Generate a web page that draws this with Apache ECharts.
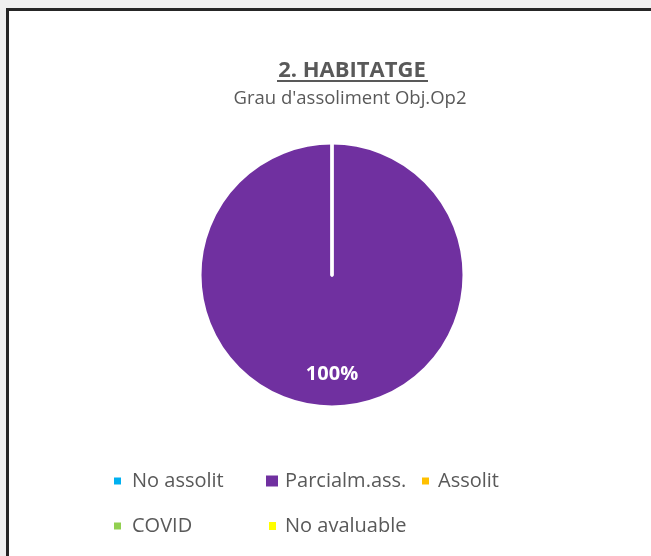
<!DOCTYPE html>
<html>
<head>
<meta charset="utf-8">
<script src="https://cdn.jsdelivr.net/npm/echarts@6/dist/echarts.min.js"></script>
<style>
  html, body { margin: 0; padding: 0; background: #f0f0f0; overflow: hidden; }
  .frame {
    position: absolute; left: 6px; top: 8px; width: 700px; height: 600px;
    background: #fff; border-top: 3px solid #262626; border-left: 3px solid #262626;
  }
  #chart { position: absolute; left: 0; top: 0; width: 651px; height: 556px; }
</style>
</head>
<body>
<div class="frame"></div>
<div id="chart"></div>
<script>
// categories and values
const categories = ['No assolit', 'Parcialm.ass.', 'Assolit', 'COVID', 'No avaluable']
const values = [0, 100, 0, 0, 0]
const colors = ['#00b0f0', '#7030a0', '#ffc000', '#92d050', '#ffff00']

const chart = echarts.init(document.getElementById('chart'))

const textGrey = '#595959'

// legend placement per item (Excel lays them out on a grid)
const legendPos = [
  { left: 112, top: 469, w: 9, h: 9, gap: 5 },
  { left: 264, top: 469, w: 14, h: 13, gap: 1 },
  { left: 420, top: 469, w: 9, h: 9, gap: 3 },
  { left: 112, top: 514, w: 9, h: 9, gap: 5 },
  { left: 267, top: 514, w: 9, h: 10, gap: 3 },
]

const legends = categories.map((name, i) => {
  const p = legendPos[i]
  return {
    data: [name],
    left: p.left,
    top: p.top,
    padding: 0,
    icon: 'rect',
    itemWidth: p.w,
    itemHeight: p.h,
    selectedMode: false,
    textStyle: {
      color: textGrey,
      fontFamily: 'Open Sans',
      fontSize: 20,
      lineHeight: 24,
      padding: [0, 0, 0, p.gap],
    },
  }
})

const option = {
  animation: false,
  title: [
    {
      text: '2. HABITATGE',
      left: 352,
      textAlign: 'center',
      top: 58,
      padding: 0,
      textStyle: {
        color: textGrey,
        fontFamily: 'Open Sans',
        fontWeight: 'bold',
        fontSize: 22,
        lineHeight: 26,
      },
    },
    {
      text: "Grau d'assoliment Obj.Op2",
      left: 350,
      textAlign: 'center',
      top: 88,
      padding: 0,
      textStyle: {
        color: textGrey,
        fontFamily: 'Open Sans',
        fontWeight: 'normal',
        fontSize: 18.5,
        lineHeight: 22,
      },
    },
  ],
  // underline under the title
  graphic: [
    {
      type: 'rect',
      left: 277,
      top: 80,
      shape: { width: 151, height: 2 },
      style: { fill: textGrey },
    },
  ],
  legend: legends,
  series: [
    {
      type: 'pie',
      center: [332, 275],
      radius: 132,
      startAngle: 90,
      clockwise: true,
      silent: true,
      itemStyle: {
        borderColor: '#fff',
        borderWidth: 3,
      },
      label: {
        show: true,
        position: 'inside',
        color: '#fff',
        fontFamily: 'Open Sans',
        fontWeight: 'bold',
        fontSize: 20,
        lineHeight: 30,
        // two empty lines push the value down inside the slice
        formatter: (p) => (p.value > 0 ? '\n\n' + Math.round(p.percent) + '%' : ''),
      },
      labelLine: { show: false },
      data: categories.map((name, i) => ({
        name: name,
        value: values[i],
        itemStyle: { color: colors[i] },
      })),
    },
  ],
}

chart.setOption(option)
</script>
</body>
</html>
